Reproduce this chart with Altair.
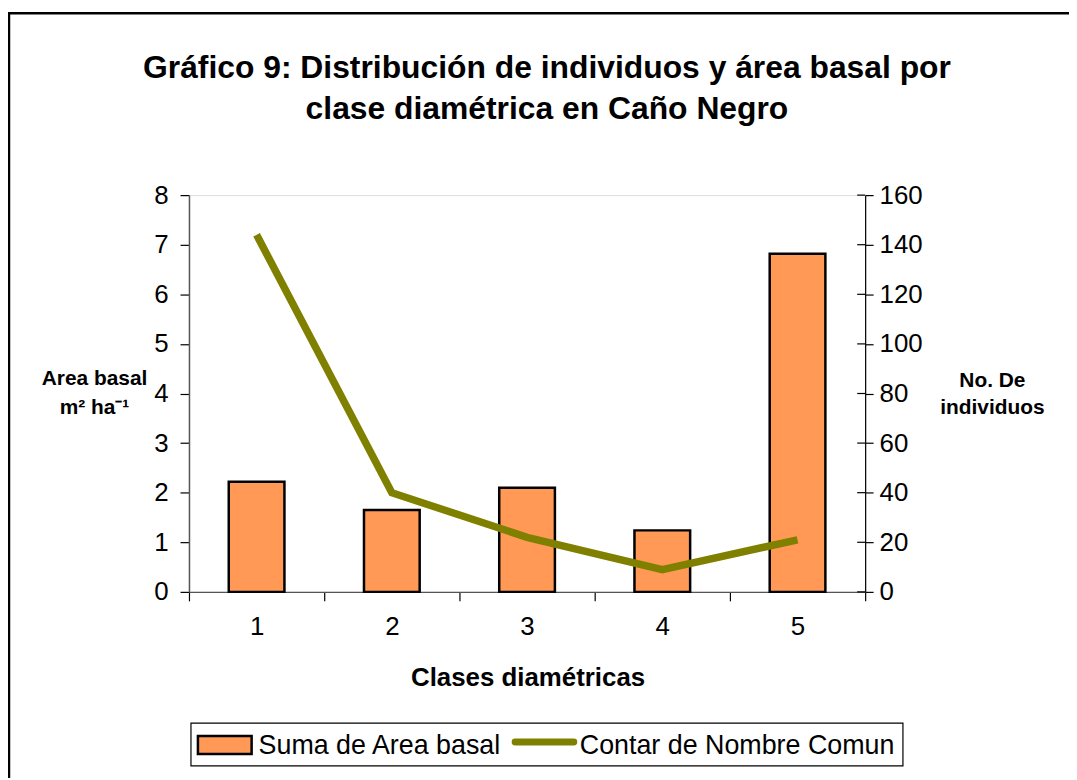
import altair as alt
import pandas as pd

# ---- data ----
clases = ["1", "2", "3", "4", "5"]
area_basal = [2.22, 1.65, 2.10, 1.24, 6.82]
individuos = [144, 40, 22, 9, 21]
left_ticks = [0, 1, 2, 3, 4, 5, 6, 7, 8]
right_ticks = [0, 20, 40, 60, 80, 100, 120, 140, 160]
title_lines = ["Gráfico 9: Distribución de individuos y área basal por",
               "clase diamétrica en Caño Negro"]
x_title = "Clases diamétricas"
left_title = ["Area basal", "m² ha⁻¹"]
right_title = ["No. De", "individuos"]
legend_labels = ["Suma de Area basal", "Contar de Nombre Comun"]

df = pd.DataFrame({"clase": clases, "area": area_basal, "n": individuos})
rt = pd.DataFrame({"v": right_ticks})

FONT = "Liberation Sans"
W, H = 680, 399
BAR = "#FF9955"
OLIVE = "#808000"
LBL = 26

xenc = alt.X(
    "clase:N", sort=clases,
    scale=alt.Scale(paddingInner=0, paddingOuter=0),
    axis=alt.Axis(title=None, labelAngle=0, tickBand="extent", tickSize=9,
                  labelPadding=13, labelFontSize=LBL, labelFont=FONT,
                  labelColor="#000", domainColor="#555", tickColor="#000",
                  domainWidth=1.5, tickWidth=1.2, grid=False),
)

bars = alt.Chart(df).mark_bar(size=56, fill=BAR, stroke="#000", strokeWidth=2.5).encode(
    x=xenc,
    y=alt.Y("area:Q", scale=alt.Scale(domain=[0, 8], nice=False, zero=True),
            axis=alt.Axis(title=None, orient="left", values=left_ticks, tickSize=9,
                          labelPadding=12, labelFontSize=LBL, labelFont=FONT,
                          labelColor="#000", domainColor="#555", tickColor="#000",
                          domainWidth=1.5, tickWidth=1.2, grid=False)),
)

line = alt.Chart(df).mark_line(color=OLIVE, strokeWidth=7.5).encode(
    x=xenc,
    y=alt.Y("n:Q", scale=alt.Scale(domain=[0, 160], nice=False, zero=True),
            axis=alt.Axis(title=None, orient="right", values=right_ticks, tickSize=8,
                          labelPadding=6, labelFontSize=LBL, labelFont=FONT,
                          labelColor="#000", domainColor="#000", tickColor="#000",
                          domainWidth=1.2, tickWidth=1.2, grid=False)),
)

ticks_in = alt.Chart(rt).mark_rule(color="#000", strokeWidth=1.2).encode(
    x=alt.value(W - 8), x2=alt.value(W),
    y=alt.Y("v:Q", scale=alt.Scale(domain=[0, 160], nice=False, zero=True), axis=None),
)


def txt(s, x, y, size, bold=False, align="center"):
    return alt.Chart(pd.DataFrame({"t": [s]})).mark_text(
        font=FONT, fontSize=size, fontWeight="bold" if bold else "normal",
        align=align, baseline="alphabetic", color="#000",
    ).encode(text="t:N", x=alt.value(x), y=alt.value(y))


# page -> plot coords: x - 190, y - 194
texts = [
    txt(title_lines[0], 360, -118, 32, True),
    txt(title_lines[1], 360, -77, 32, True),
    txt(x_title, 341, 494, 26, True),
    txt(left_title[0], -95, 191, 21, True),
    txt(left_title[1], -95, 220, 21, True),
    txt(right_title[0], 808, 193, 21, True),
    txt(right_title[1], 808, 220, 21, True),
    txt(legend_labels[0], 70, 562, 27, False, "left"),
    txt(legend_labels[1], 393, 562, 27, False, "left"),
]

border = alt.Chart(pd.DataFrame({"a": [0]})).mark_rect(
    fill=None, stroke="#000", strokeWidth=2.5
).encode(x=alt.value(-181), x2=alt.value(1200), y=alt.value(-183), y2=alt.value(1200))

legend_box = alt.Chart(pd.DataFrame({"a": [0]})).mark_rect(
    fill="#fff", stroke="#000", strokeWidth=1.2
).encode(x=alt.value(2), x2=alt.value(718), y=alt.value(531), y2=alt.value(574))

legend_sw = alt.Chart(pd.DataFrame({"a": [0]})).mark_rect(
    fill=BAR, stroke="#000", strokeWidth=2.5
).encode(x=alt.value(9), x2=alt.value(63), y=alt.value(544), y2=alt.value(562))

legend_ln = alt.Chart(pd.DataFrame({"a": [0]})).mark_rule(
    color=OLIVE, strokeWidth=7, strokeCap="round"
).encode(x=alt.value(328), x2=alt.value(387), y=alt.value(550))

chart = alt.layer(
    border, bars, line, ticks_in, legend_box, legend_sw, legend_ln, *texts
).resolve_scale(y="independent").properties(
    width=W, height=H,
    autosize=alt.AutoSizeParams(type="none"),
    padding={"left": 182, "top": 186, "right": 205, "bottom": 185},
).configure_view(stroke=None).configure(background="#ffffff")

chart.save("out.html", embed_options={"renderer": "svg", "actions": False})
